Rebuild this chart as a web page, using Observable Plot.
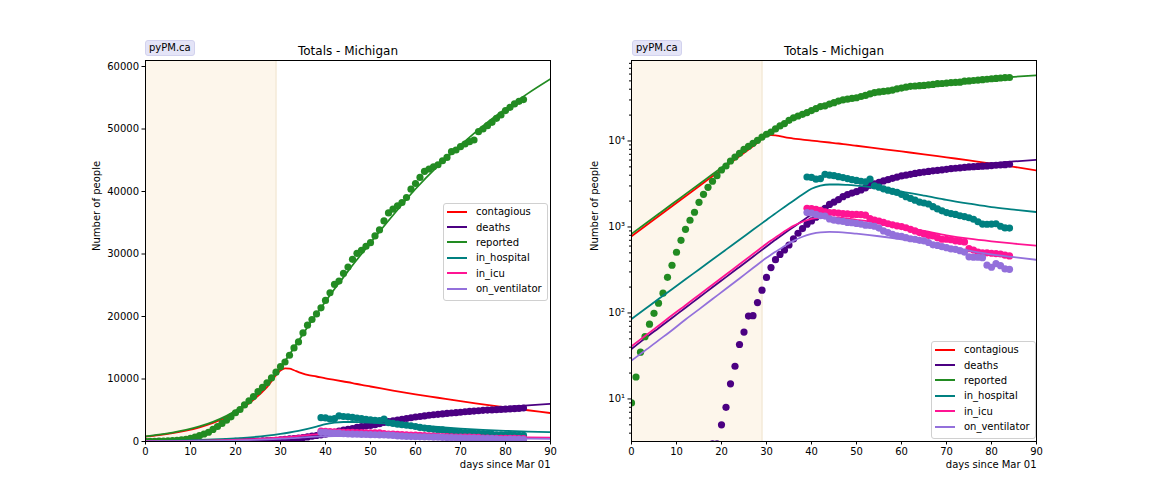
<!DOCTYPE html>
<html>
<head>
<meta charset="utf-8">
<script src="https://cdn.jsdelivr.net/npm/d3@7"></script>
<script src="https://cdn.jsdelivr.net/npm/@observablehq/plot@0.6"></script>
<style>
  html, body { margin: 0; padding: 0; background: white; }
  #wrap { position: relative; width: 1152px; height: 504px; font-family: "DejaVu Sans", sans-serif; }
  .panel { position: absolute; top: 0; }
  .badge { position: absolute; font-size: 10px; background: #e4e4f7; border: 1px solid #d2d2ee; border-radius: 3px;
           padding: 1px 3px; line-height: 12px; color: #000; }
  .legend { position: absolute; background: rgba(255,255,255,0.85); border: 1px solid #d0d0d0; border-radius: 3px;
            padding: 0px 5px 4px 3px; font-size: 10px; color: #000; }
  .legend .row { display: flex; align-items: center; height: 15.4px; white-space: nowrap; }
  .legend .sw { display: inline-block; width: 20px; height: 2px; margin-right: 9px; }
</style>
</head>
<body>
<div id="wrap"></div>
<script>
// ---- series metadata ----
const seriesNames = ["contagious", "deaths", "reported", "in_hospital", "in_icu", "on_ventilator"];
const seriesColors = ["#ff0000", "#4b0082", "#228b22", "#008080", "#ff1493", "#9370db"];

// ---- model curves ----
const modelDays = [0,3,6,9,12,15,18,21,24,27,30,31,32,33,34,35,36,38,40,42,44,46,48,50,55,60,65,70,75,80,85,90];
const contagiousModel = [780,1020,1333,1743,2278,2979,3894,5091,6655,8700,11376,11700,11650,11400,11100,10850,10650,10400,10100,9850,9600,9350,9050,8800,8150,7550,7000,6450,5950,5450,5000,4550];
const deathsModel = [38,50.6,66.5,87.4,115,151,199,261,343,451,593,650,710,775,845,920,1000,1180,1400,1620,1820,2060,2320,2560,3270,3870,4400,4830,5200,5500,5780,6020];
const reportedModel = [830,1085,1416,1848,2410,3145,4100,5353,6980,9110,11885,12900,13900,15000,16100,17200,18300,20400,22400,24400,26300,28200,30000,31800,36200,40400,44100,47400,50500,53200,55700,58000];
const hospitalModel = [85,111,145,189,246,321,418,545,711,926,1208,1320,1440,1570,1710,1860,2020,2380,2780,3020,3120,3120,3080,3020,2820,2580,2320,2070,1870,1700,1590,1490];
const icuModel = [41,54,71,94,123,162,213,280,368,484,637,695,755,820,890,960,1030,1150,1240,1285,1295,1280,1250,1210,1110,1000,900,800,730,680,640,605];
const ventModel = [28,36.5,48,63,84,110,145,191,252,333,438,475,515,555,600,645,690,770,830,865,875,870,855,835,780,720,655,590,530,480,445,415];

const reportedDays = d3.range(0, 85);
const reportedData = [9,18,35,53,74,99,130,170,260,359,508,700,940,1197,1484,1937,2400,2895,3400,3950,
  4600,5120,5850,6510,7190,8000,8670,9400,10180,11100,11970,12720,13800,14970,15930,17380,18610,19520,20420,21390,
  22570,23800,25140,25670,26900,27920,29150,30110,30600,31240,31820,32890,33850,35300,36580,37170,37700,38240,39040,40380,
  41280,42250,43210,43590,43960,44280,44920,45460,46370,46640,47170,47600,47970,48240,49570,50000,50540,51070,51710,52250,
  52950,53470,54020,54430,54710];
const deathsDays = d3.range(18, 85);
const deathsData = [3,3,5,8,15,24,43,60,92,93,132,184,259,337,417,479,540,617,727,845,959,1076,
  1175,1300,1480,1650,1830,1950,2080,2250,2380,2480,2570,2700,2850,3050,3170,3300,3430,3550,3680,3800,
  3920,4000,4100,4200,4280,4350,4420,4500,4560,4620,4680,4760,4820,4870,4920,4990,5030,5060,5100,5130,
  5180,5220,5260,5300,5360];
const hospDays = d3.range(39, 85);
const hospitalData = [3810,3770,3600,3650,4100,4000,3950,3850,3750,3650,3550,3480,3400,3350,3600,3000,2900,2780,2680,2600,
  2520,2400,2250,2150,2050,1950,1900,1850,1720,1620,1540,1470,1430,1400,1350,1320,1280,1230,1150,1080,1075,1080,1090,1020,975,970];
const icuData = [1650,1640,1600,1560,1500,1470,1470,1450,1430,1420,1400,1400,1390,1370,1250,1200,1170,1130,1090,1060,
  1030,1010,980,940,900,860,830,800,785,750,720,720,710,690,680,670,560,540,510,500,500,495,490,485,470,460];
const ventData = [1470,1450,1400,1350,1340,1240,1200,1180,1160,1130,1120,1100,1080,1050,1040,1020,970,900,860,820,
  790,780,750,730,720,700,690,660,620,610,590,575,555,550,530,510,450,445,445,440,360,340,375,355,325,322];

// ---- axis ticks / labels ----
const xTicks = [0,10,20,30,40,50,60,70,80,90];
const linTicks = [0,10000,20000,30000,40000,50000,60000];
const logMajor = [10,100,1000,10000];
const logMinor = [4,5,6,7,8,9,20,30,40,50,60,70,80,90,200,300,400,500,600,700,800,900,
  2000,3000,4000,5000,6000,7000,8000,9000,20000,30000,40000,50000,60000,70000,80000];
const shadeEnd = 29;
const titleText = "Totals - Michigan";
const yLabel = "Number of people";
const xLabel = "days since Mar 01";
const badgeText = "pyPM.ca";

const models = [contagiousModel, deathsModel, reportedModel, hospitalModel, icuModel, ventModel];
const dataSets = [null, [deathsDays, deathsData], [reportedDays, reportedData], [hospDays, hospitalData], [hospDays, icuData], [hospDays, ventData]];

const sup = {"1": "\u00b9", "2": "\u00b2", "3": "\u00b3", "4": "\u2074"};

function panel(isLog) {
  const marks = [
    Plot.rect([{x1: 0, x2: shadeEnd}], {x1: "x1", x2: "x2", fill: "#fdf6eb"}),
    Plot.ruleX([shadeEnd], {stroke: "#efe0c4", strokeWidth: 1})
  ];
  seriesNames.forEach((name, i) => {
    const rows = modelDays.map((d, j) => ({x: d, y: models[i][j]}));
    marks.push(Plot.line(rows, {x: "x", y: "y", stroke: seriesColors[i], strokeWidth: 1.8, curve: "monotone-x", clip: true}));
    if (dataSets[i]) {
      const [ds, vs] = dataSets[i];
      const pts = ds.map((d, j) => ({x: d, y: vs[j]}));
      marks.push(Plot.dot(pts, {x: "x", y: "y", fill: seriesColors[i], r: 3.6, clip: true}));
    }
  });
  marks.push(Plot.frame({stroke: "black", strokeWidth: 1}));
  marks.push(Plot.axisX(xTicks, {tickSize: 3.5, tickPadding: 3, label: null, tickFormat: d => String(d)}));
  if (isLog) {
    marks.push(Plot.axisY(logMinor, {tickSize: 2, label: null, tickFormat: () => ""}));
    marks.push(Plot.axisY(logMajor, {tickSize: 3.5, tickPadding: 3, label: null,
      tickFormat: d => "10" + sup[String(Math.round(Math.log10(d)))]}));
  } else {
    marks.push(Plot.axisY(linTicks, {tickSize: 3.5, tickPadding: 3, label: null, tickFormat: d => String(d)}));
  }
  marks.push(Plot.text([titleText], {frameAnchor: "top", dy: -14, fontSize: 12, text: d => d}));
  marks.push(Plot.text([yLabel], {frameAnchor: "left", rotate: -90, dx: isLog ? -37 : -49, text: d => d, fontSize: 10}));
  marks.push(Plot.text([xLabel], {frameAnchor: "bottom-right", textAnchor: "end", dy: 26, text: d => d, fontSize: 10}));

  return Plot.plot({
    width: 576,
    height: 504,
    marginLeft: isLog ? 55 : 145,
    marginRight: isLog ? 116 : 26,
    marginTop: 60,
    marginBottom: 63,
    style: {fontFamily: "DejaVu Sans, sans-serif", fontSize: "10px", color: "black", background: "transparent", overflow: "visible"},
    x: {domain: [0, 90], label: null},
    y: isLog ? {type: "log", domain: [3.2, 86300], label: null} : {domain: [0, 60960], label: null},
    marks
  });
}

const wrap = document.getElementById("wrap");
[[false, 0], [true, 576]].forEach(([isLog, left]) => {
  const div = document.createElement("div");
  div.className = "panel";
  div.style.left = left + "px";
  div.appendChild(panel(isLog));
  wrap.appendChild(div);
});

function badge(left) {
  const b = document.createElement("div");
  b.className = "badge";
  b.style.left = left + "px";
  b.style.top = "40px";
  b.textContent = badgeText;
  wrap.appendChild(b);
}
badge(145);
badge(632);

function legend(left, top) {
  const l = document.createElement("div");
  l.className = "legend";
  l.style.left = left + "px";
  l.style.top = top + "px";
  seriesNames.forEach((n, i) => {
    const r = document.createElement("div");
    r.className = "row";
    const s = document.createElement("span");
    s.className = "sw";
    s.style.background = seriesColors[i];
    r.appendChild(s);
    r.appendChild(document.createTextNode(n));
    l.appendChild(r);
  });
  wrap.appendChild(l);
}
legend(443, 203);
legend(931, 341);
</script>
</body>
</html>
